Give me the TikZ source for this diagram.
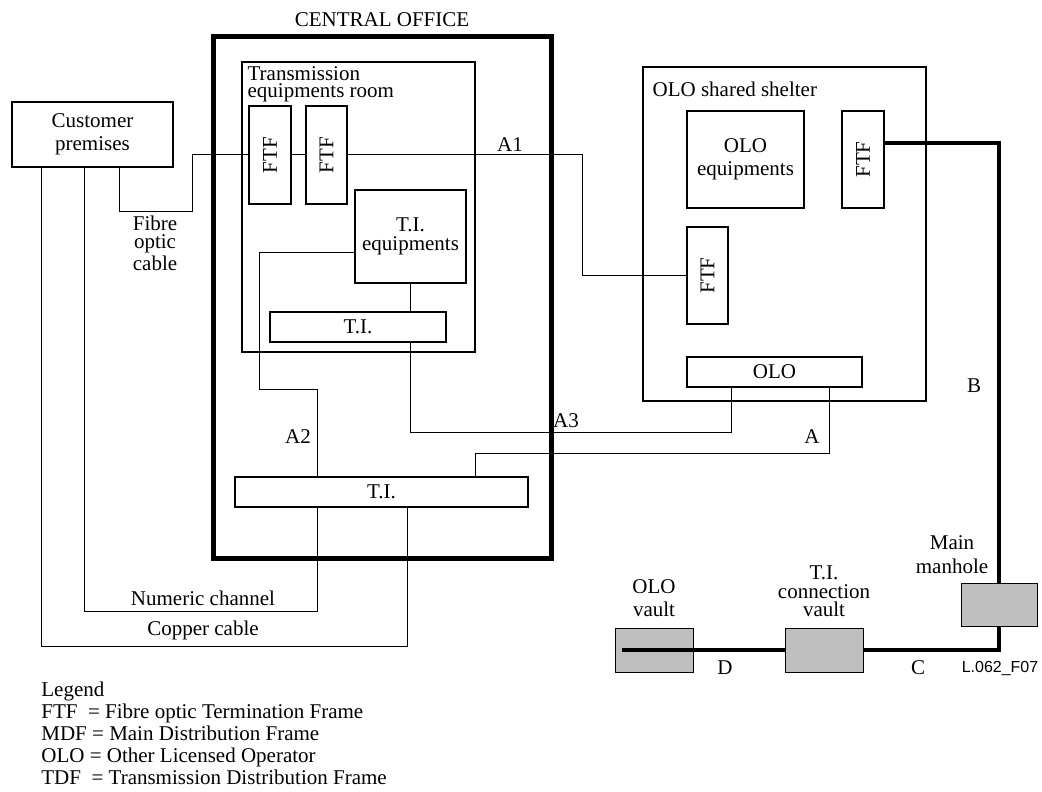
\documentclass[tikz,border=0pt]{standalone}
\usepackage{graphicx}
\usepackage{fontspec}
\setmainfont{Liberation Serif}
\newfontfamily\arialfont{Liberation Sans}
\usetikzlibrary{positioning,calc}

\tikzset{
  box/.style={draw, line width=1.4pt, inner sep=0pt},
  room/.style={draw, line width=0.8pt, inner sep=0pt},
  ftf/.style={box, minimum width=21pt, minimum height=49pt},
  vault/.style={draw, line width=0.5pt, fill=black!25, minimum width=39pt, minimum height=22pt},
  wire/.style={line width=0.5pt},
  cable/.style={line width=1.7pt},
  lbl/.style={align=center, inner sep=0pt}
}

\begin{document}
\begin{tikzpicture}[x=0.5pt, y=-0.5pt, font=\fontsize{10.5}{11.5}\selectfont]
    \useasboundingbox (0,0) rectangle (1042,791);

    % Central office
    \node[draw, line width=2.5pt, minimum width=169pt, minimum height=260.5pt] (co) at (382,297.5) {};
    \node[lbl, above=3.5pt of co] (cotitle) {CENTRAL OFFICE};

    % Transmission room
    \node[room, minimum width=116.5pt, minimum height=145pt] (room) at (358.5,207) {};
    \node[lbl, anchor=north west, align=left] (roomtitle) at ($(room.north west)+(6,5)$) {Transmission\\[-3.2pt]equipments room};
    \node[ftf] (ftfA) at (270,155) {\rotatebox{90}{FTF}};
    \node[ftf, minimum width=20.5pt] (ftfB) at (326.5,155) {\rotatebox{90}{FTF}};
    \node[box, lbl, minimum width=55.5pt, minimum height=46.5pt, font=\fontsize{10.5}{9.5}\selectfont] (tieq) at (410.5,236.5) {T.I.\\equipments};
    \node[box, minimum width=88pt, minimum height=15pt] (tiin) at (358,327) {T.I.};
    \node[box, minimum width=146.5pt, minimum height=15pt] (tibig) at (381.5,492) {T.I.};

    % Customer
    \node[box, lbl, minimum width=80.5pt, minimum height=32.5pt] (cust) at (92.5,134.5) {Customer\\premises};

    % OLO shelter
    \node[room, minimum width=141.5pt, minimum height=167pt] (shelter) at (784.5,234) {};
    \node[lbl, anchor=north west] (sheltertitle) at ($(shelter.north west)+(10,15)$) {OLO shared shelter};
    \node[box, lbl, minimum width=58.5pt, minimum height=48.5pt] (oloeq) at (745.5,159.5) {OLO\\equipments};
    \node[ftf, minimum height=48.5pt] (ftfC) at (863,159.5) {\rotatebox{90}{FTF}};
    \node[ftf, minimum width=20.5pt, minimum height=48.5pt] (ftfD) at (707.5,275.5) {\rotatebox{90}{FTF}};
    \node[box, minimum width=87.5pt, minimum height=15pt] (olo) at (774.5,372) {OLO};

    % Vaults
    \node[vault, minimum width=38pt, minimum height=21.5pt] (manhole) at (999,604.5) {};
    \node[vault] (tivault) at (824,650) {};
    \node[vault] (olovault) at (654,650) {};
    \node[lbl, above=5pt of olovault] (olovaultlbl) {OLO\\vault};
    \node[lbl, above=5pt of tivault, font=\fontsize{10.5}{9.3}\selectfont] (tivaultlbl) {T.I.\\connection\\vault};
    \node[lbl, font=\fontsize{10.5}{12}\selectfont] (manholelbl) at (952,555) {Main\\manhole};

    % Fibre
    \draw[wire] (119,0 |- cust.south) |- (192,211) |- (ftfA.west);
    \node[lbl, font=\fontsize{10.5}{9.3}\selectfont] (fibrelbl) at (155,243) {Fibre\\optic\\cable};
    \draw[wire] (ftfA.east) -- (ftfB.west);
    \draw[wire] (ftfB.east) -| (582,0 |- ftfD.west) -- (ftfD.west);
    \node (a1) at (510,145) {A1};

    % A2, A3, A
    \draw[wire] ($(tieq.west)+(0,15.5)$) -| (259,389) -| (317,0 |- tibig.north);
    \node (a2) at (298,437) {A2};
    \draw[wire] (tieq.south) -- (tieq.south |- tiin.north);
    \draw[wire] (tieq.south |- tiin.south) |- (731,432) -- (731,0 |- olo.south);
    \node (a3) at (566,421) {A3};
    \draw[wire] (475,0 |- tibig.north) |- (829,453) -- (829,0 |- olo.south);
    \node (a) at (812,437) {A};

    % Copper side
    \draw[wire] (84,0 |- cust.south) |- (317,611) -- (317,0 |- tibig.south);
    \node (numlbl) at (203,598) {Numeric channel};
    \draw[wire] (41,0 |- cust.south) |- (407,646) -- (407,0 |- tibig.south);
    \node (copperlbl) at (203,630) {Copper cable};

    % Ducts
    \draw[cable] ($(ftfC.east)+(0,-16.5)$) -| (manhole.north);
    \node (b) at (974,386) {B};
    \draw[cable] (manhole.south) |- (tivault.east);
    \draw[cable] (tivault.west) -- ($(olovault.west)+(7,0)$);
    \node (c) at (918,668) {C};
    \node (d) at (725,668) {D};
    \node[font=\arialfont\fontsize{8}{9}\selectfont] (figref) at (1000,668) {L.062\_F07};

    % Legend
    \node[anchor=north west, align=left, inner sep=0pt, font=\fontsize{10.5}{11}\selectfont] (legend) at (41,682)
      {Legend\\FTF~~= Fibre optic Termination Frame\\MDF = Main Distribution Frame\\OLO = Other Licensed Operator\\TDF~~= Transmission Distribution Frame};
\end{tikzpicture}
\end{document}
